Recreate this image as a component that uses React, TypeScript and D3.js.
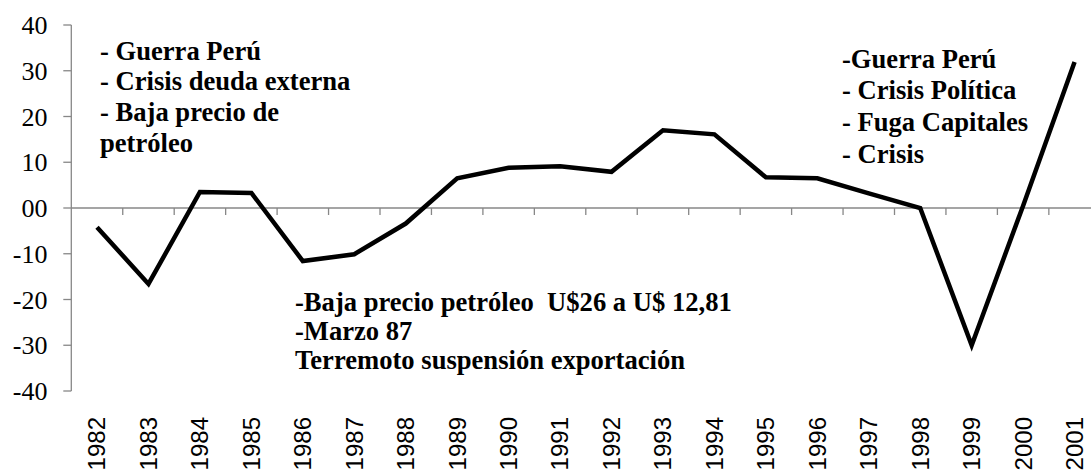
import React from 'react'
import * as d3 from 'd3'

// Years on the category axis
const years = [
  '1982', '1983', '1984', '1985', '1986', '1987', '1988', '1989', '1990', '1991',
  '1992', '1993', '1994', '1995', '1996', '1997', '1998', '1999', '2000', '2001'
];

// Series values
const values = [
  -4.2, -16.6, 3.5, 3.3, -11.6, -10.1, -3.4, 6.5, 8.8, 9.1,
  7.9, 17.0, 16.1, 6.7, 6.5, 3.2, 0.0, -30.0, 0.5, 31.9
];

const yTicks = [-40, -30, -20, -10, 0, 10, 20, 30, 40];
const yTickLabels = ['-40', '-30', '-20', '-10', '00', '10', '20', '30', '40'];

const noteLeft = ['- Guerra Perú', '- Crisis deuda externa', '- Baja precio de', 'petróleo'];
const noteRight = ['-Guerra Perú', '- Crisis Política', '- Fuga Capitales', '- Crisis'];
const noteMiddle = ['-Baja precio petróleo  U$26 a U$ 12,81', '-Marzo 87', 'Terremoto suspensión exportación'];

const axisColor = '#878787';
const serif = 'Liberation Serif';
const sans = 'Liberation Sans';

function Note({ lines, left, top, step }: { lines: string[]; left: number; top: number; step: number }) {
  return (
    <text fontFamily={serif} fontSize={26.6} fontWeight="bold" fill="#000" xmlSpace="preserve">
      {lines.map((s, i) => (
        <tspan key={i} x={left} y={top + i * step}>{s}</tspan>
      ))}
    </text>
  );
}

export default function App() {
  const width = 1091;
  const height = 473;

  const x = d3.scaleBand<string>()
    .domain(years)
    .range([71.3, 71.3 + 51.45 * years.length]);

  const y = d3.scaleLinear()
    .domain([-40, 40])
    .range([391, 25]);

  const cx = (yr: string) => (x(yr) as number) + x.bandwidth() / 2;
  const x0 = x.range()[0];

  const line = d3.line<number>()
    .x((d, i) => cx(years[i]))
    .y(d => y(d));

  return (
    <svg
      width={width}
      height={height}
      fontFamily={serif}
      style={{ position: 'absolute', left: 0, top: 0, background: '#fff' }}
    >
      {/* Y axis */}
      <line x1={x0} x2={x0} y1={y(40)} y2={y(-40)} stroke={axisColor} strokeWidth={1.3} />
      {yTicks.map((t, i) => (
        <g key={t}>
          <line x1={x0 - 8} x2={x0} y1={y(t)} y2={y(t)} stroke={axisColor} strokeWidth={1.3} />
          <text x={47.5} y={y(t)} dy="0.35em" textAnchor="end" fontFamily={serif} fontSize={26} fill="#000">
            {yTickLabels[i]}
          </text>
        </g>
      ))}

      {/* X axis at zero, ticks between categories */}
      <line x1={x0} x2={x.range()[1]} y1={y(0)} y2={y(0)} stroke={axisColor} strokeWidth={1.3} />
      {years.slice(1).map(yr => (
        <line
          key={yr}
          x1={x(yr)}
          x2={x(yr)}
          y1={y(0)}
          y2={y(0) + 7}
          stroke={axisColor}
          strokeWidth={1.3}
        />
      ))}
      {years.map(yr => (
        <text
          key={yr}
          transform={`translate(${cx(yr)},417) rotate(-90)`}
          dy="0.35em"
          textAnchor="end"
          fontFamily={sans}
          fontSize={24}
          fill="#000"
        >
          {yr}
        </text>
      ))}

      {/* Data line */}
      <path
        d={line(values) ?? ''}
        fill="none"
        stroke="#000"
        strokeWidth={4.5}
        strokeLinejoin="miter"
      />

      {/* Annotations */}
      <Note lines={noteLeft} left={100} top={59.5} step={30.8} />
      <Note lines={noteRight} left={842} top={67.5} step={31.7} />
      <Note lines={noteMiddle} left={295} top={310.7} step={29.2} />
    </svg>
  );
}
